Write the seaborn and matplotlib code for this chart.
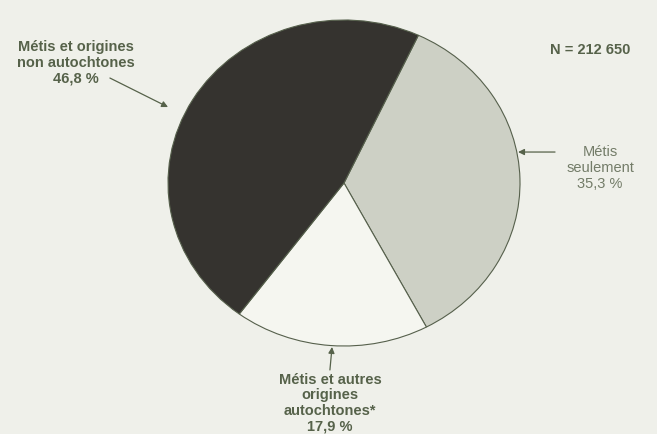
import matplotlib
matplotlib.use("Agg")
import matplotlib.pyplot as plt
import seaborn as sns

# Data
categories = ["Métis seulement", "Métis et autres origines autochtones*", "Métis et origines non autochtones"]
shares = [35.3, 17.9, 46.8]
value_labels = ["35,3 %", "17,9 %", "46,8 %"]
slice_colors = ["#cdd0c5", "#f5f6f0", "#35332f"]
total_label = "N = 212 650"

sns.set_theme(style="white")
plt.rcParams['font.family'] = ['Liberation Sans', 'DejaVu Sans']

BG = "#eff0ea"
TXT = "#56624a"
TXT_LIGHT = "#737c68"

fig = plt.figure(figsize=(6.57, 4.34), dpi=100, facecolor=BG)
ax = fig.add_axes([168/657, (434-346)/434, 352/657, 326/434])
ax.set_facecolor(BG)

ax.pie(shares, colors=slice_colors, startangle=65, counterclock=False,
       radius=1.0, center=(0, 0),
       wedgeprops=dict(edgecolor="#56604c", linewidth=0.8))
ax.set_aspect('auto')
ax.set_xlim(-1, 1)
ax.set_ylim(-1, 1)
ax.axis('off')

arrow = dict(arrowstyle="-|>", color=TXT, lw=0.9, mutation_scale=9,
             shrinkA=0, shrinkB=0)

# Top-left label
ax.text(-1.523, 0.736, "Métis et origines\nnon autochtones\n" + value_labels[2],
        ha="center", va="center", fontsize=10.5, fontweight="bold",
        color=TXT, linespacing=1.15)
ax.annotate("", xy=(-1.0, 0.466), xytext=(-1.33, 0.644),
            arrowprops=arrow, annotation_clip=False)

# Right label
ax.text(1.455, 0.092, "Métis\nseulement\n" + value_labels[0],
        ha="center", va="center", fontsize=10.5,
        color=TXT_LIGHT, linespacing=1.15)
ax.annotate("", xy=(0.989, 0.19), xytext=(1.199, 0.19),
            arrowprops=arrow, annotation_clip=False)

# Bottom label
ax.text(-0.08, -1.35, "Métis et autres\norigines\nautochtones*\n" + value_labels[1],
        ha="center", va="center", fontsize=10.5, fontweight="bold",
        color=TXT, linespacing=1.15)
ax.annotate("", xy=(-0.068, -1.006), xytext=(-0.08, -1.147),
            arrowprops=arrow, annotation_clip=False)

# Total
ax.text(1.398, 0.816, total_label, ha="center", va="center",
        fontsize=10.5, fontweight="bold", color=TXT)

fig.savefig("out.png", dpi=100, facecolor=BG)
